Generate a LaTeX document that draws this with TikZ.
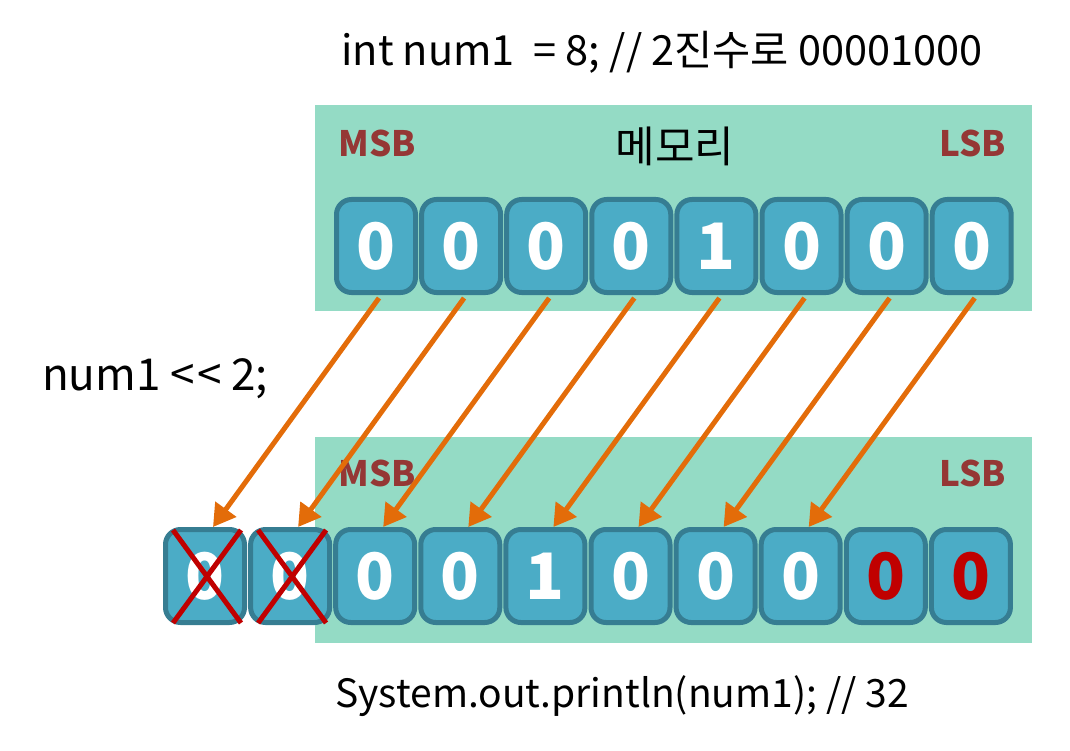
\documentclass[tikz,border=0pt]{standalone}
\usepackage{fontspec}
\setmainfont{Noto Sans CJK KR}
\usetikzlibrary{arrows.meta}
\definecolor{memgreen}{HTML}{94DBC5}
\definecolor{cellfill}{HTML}{4BACC6}
\definecolor{cellline}{HTML}{367D92}
\definecolor{bitred}{HTML}{C00000}
\definecolor{sbred}{HTML}{953735}
\definecolor{arrowor}{HTML}{E36C09}
\tikzset{
  membox/.style={fill=memgreen, draw=none},
  bitcell/.style={draw=cellline, fill=cellfill, line width=5pt, rounded corners=15pt,
    minimum width=79pt, minimum height=93pt, inner sep=0pt,
    text=white, font=\fontsize{64}{64}\selectfont\bfseries},
  redbit/.style={bitcell, text=bitred},
  sblabel/.style={text=sbred, font=\fontsize{35}{35}\selectfont\bfseries, inner sep=0pt},
  plain/.style={font=\fontsize{41.5}{41.5}\selectfont, inner sep=0pt},
  shiftarrow/.style={draw=arrowor, line width=5pt, -{Triangle[length=22pt,width=25pt]}},
  cross/.style={draw=bitred, line width=5pt}
}
\begin{document}
\begin{tikzpicture}[x=1pt,y=-1pt]
\useasboundingbox (0,0) rectangle (1070,751);
% memory boxes
\fill[membox] (315,105) rectangle (1032,311);
\fill[membox] (315,437) rectangle (1032,643);
% texts
\node[plain] (decl) at (662,52) {int num1\ \ = 8; // 2진수로 00001000};
\node[font=\fontsize{43}{43}\selectfont, inner sep=0pt] (mem) at (675,146) {메모리};
\node[sblabel] (msb1) at (377,143) {MSB};
\node[sblabel] (lsb1) at (973,143) {LSB};
\node[sblabel] (msb2) at (377,473) {MSB};
\node[sblabel] (lsb2) at (973,473) {LSB};
\node[font=\fontsize{44}{44}\selectfont, inner sep=0pt] (shift) at (155,379) {num1 {<}\kern2pt{<} 2;};
\node[font=\fontsize{39}{39}\selectfont, inner sep=0pt] (print) at (622,696) {System.out.println(num1); // 32};
% top cells
\foreach \b [count=\i from 0] in {0,0,0,0,1,0,0,0} {
  \node[bitcell] (t\i) at ({376+85.1*\i},246) {\b};
}
% bottom cells
\foreach \b [count=\j from 0] in {0,0,0,0,1,0,0,0} {
  \node[bitcell] (b\j) at ({205+85.1*\j},576) {\b};
}
\node[redbit] (b8) at ({205+85.1*8},576) {0};
\node[redbit] (b9) at ({205+85.1*9},576) {0};
% crosses
\foreach \k in {0,1} {
  \draw[cross] ([xshift=10pt,yshift=-3pt]b\k.north west) -- ([xshift=-6pt,yshift=2pt]b\k.south east);
  \draw[cross] ([xshift=-6pt,yshift=-3pt]b\k.north east) -- ([xshift=10pt,yshift=2pt]b\k.south west);
}
% arrows
\foreach \k in {0,...,7} {
  \draw[shiftarrow] ([xshift=3pt,yshift=-3pt]t\k.south) -- ([xshift=8pt]b\k.north);
}
\end{tikzpicture}
\end{document}
